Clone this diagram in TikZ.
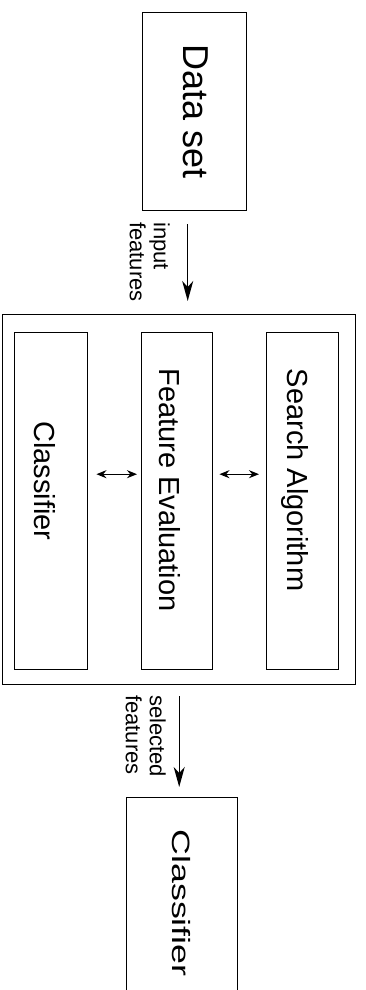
\documentclass[tikz,border=0pt]{standalone}
\usepackage{fontspec}
\setmainfont{Liberation Sans}
\usetikzlibrary{arrows.meta}
\begin{document}
\begin{tikzpicture}[x=1pt,y=-1pt,
  box/.style={draw, line width=1.4pt, inner sep=0pt, anchor=north west},
  lbl/.style={rotate=-90, inner sep=0pt},
  arr/.style={line width=1.4pt, -{Stealth[length=20pt,width=11pt,inset=6pt]}},
  darr/.style={line width=1.3pt, {Stealth[length=10pt,width=8pt]}-{Stealth[length=10pt,width=8pt]}},
  big/.style={font=\fontsize{36}{40}\selectfont},
  mid/.style={font=\fontsize{29}{33}\selectfont},
  small/.style={font=\fontsize{22}{24}\selectfont, align=left, anchor=north west}]
\useasboundingbox (0,0) rectangle (365,990);
% Data set
\node[box, minimum width=104pt, minimum height=198pt] (data) at (142,12) {};
\node[lbl, big] (datat) at (196,112) {Data set};
% outer frame
\node[box, minimum width=353pt, minimum height=370pt] (outer) at (2,314) {};
% inner boxes
\node[box, minimum width=73pt, minimum height=337pt] (cls) at (14,332) {};
\node[box, minimum width=71pt, minimum height=337pt] (fe) at (141,332) {};
\node[box, minimum width=72pt, minimum height=337pt] (sa) at (266,332) {};
\node[lbl, mid] (clst) at (45,481) {Classifier};
\node[lbl, mid] (fet) at (170,490) {Feature Evaluation};
\node[lbl, mid] (sat) at (295,480) {Search Algorithm};
% bottom classifier
\begin{scope}
\clip (0,0) rectangle (365,990);
\node[box, minimum width=111pt, minimum height=220pt] (cls2) at (126,797) {};
\end{scope}
\node[lbl, font=\fontsize{25}{30}\selectfont] (cls2t) at (181,903) {\scalebox{1.43}[1]{Classifier}};
% labels
\node[lbl, small] (inlbl) at (170,222) {input\\features};
\node[lbl, small] (sellbl) at (166,695) {selected\\features};
% connectors
\draw[arr, shorten <=13pt, shorten >=13pt] ([xshift=-7pt]data.south) -- ([xshift=-7pt]data.south |- outer.north);
\draw[arr, shorten <=11pt, shorten >=10pt] (outer.south) -- (outer.south |- cls2.north);
\draw[darr, shorten <=8pt, shorten >=4pt] ([yshift=27pt]cls.east) -- ([yshift=27pt]fe.west);
\draw[darr, shorten <=6pt, shorten >=7pt] ([yshift=27pt]fe.east) -- ([yshift=27pt]sa.west);
\end{tikzpicture}
\end{document}
